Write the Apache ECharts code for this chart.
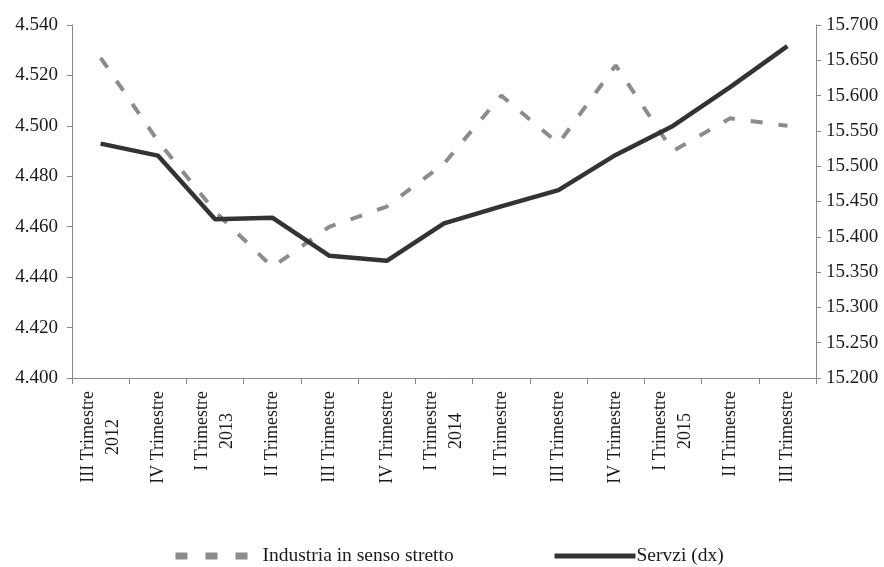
<!DOCTYPE html>
<html>
<head>
<meta charset="utf-8">
<script src="https://cdn.jsdelivr.net/npm/echarts@6/dist/echarts.min.js"></script>
<style>
html,body{margin:0;padding:0;background:#fff;}
#chart{width:884px;height:567px;}
</style>
</head>
<body>
<div id="chart"></div>
<script>
const categories = [
  'III Trimestre\n2012', 'IV Trimestre', 'I Trimestre\n2013', 'II Trimestre',
  'III Trimestre', 'IV Trimestre', 'I Trimestre\n2014', 'II Trimestre',
  'III Trimestre', 'IV Trimestre', 'I Trimestre\n2015', 'II Trimestre', 'III Trimestre'
];
const industria = [4527, 4494, 4466, 4444, 4460, 4468, 4485, 4512, 4493, 4524, 4490, 4503, 4500];
const servizi = [15532, 15515, 15425, 15427, 15373, 15366, 15419, 15443, 15466, 15516, 15557, 15612, 15670];
const seriesNames = ['Industria in senso stretto', 'Servzi (dx)'];

function fmt(v) {
  const s = String(Math.round(v));
  return s.replace(/\B(?=(\d{3})+(?!\d))/g, '.');
}

const FONT = '"Liberation Serif", "DejaVu Serif", serif';
const chart = echarts.init(document.getElementById('chart'));
chart.setOption({
  animation: false,
  backgroundColor: '#ffffff',
  grid: { left: 72, right: 68, top: 25, bottom: 189, containLabel: false },
  legend: [
    {
      data: [seriesNames[0]],
      left: 172, top: 546, padding: 0,
      itemWidth: 74, itemHeight: 14,
      itemStyle: { opacity: 0 },
      lineStyle: { width: 7, type: [12, 18], color: '#8c8c8c' },
      textStyle: { fontFamily: FONT, fontSize: 19.5, color: '#1a1a1a', padding: [0, 0, 0, 8] },
      selectedMode: false
    },
    {
      data: [seriesNames[1]],
      left: 552, top: 546, padding: 0,
      itemWidth: 81, itemHeight: 14,
      itemStyle: { opacity: 0 },
      lineStyle: { width: 5, color: '#333333' },
      textStyle: { fontFamily: FONT, fontSize: 19.5, color: '#1a1a1a', padding: [0, 0, 0, -4] },
      selectedMode: false
    }
  ],
  xAxis: {
    type: 'category',
    data: categories,
    boundaryGap: true,
    axisLine: { lineStyle: { color: '#888888', width: 1 } },
    axisTick: { show: true, length: 6, alignWithLabel: false, lineStyle: { color: '#888888' } },
    axisLabel: {
      interval: 0,
      rotate: 90,
      margin: 13,
      formatter: function (v) {
        return v.split('\n').map(function (p) { return '{a|' + p + '}'; }).join('\n');
      },
      rich: {
        a: { fontFamily: FONT, fontSize: 18, color: '#1a1a1a', align: 'center', lineHeight: 25 }
      }
    }
  },
  yAxis: [
    {
      type: 'value',
      min: 4400, max: 4540, interval: 20,
      position: 'left',
      splitLine: { show: false },
      axisLine: { show: true, lineStyle: { color: '#888888' } },
      axisTick: { show: true, length: 5, lineStyle: { color: '#888888' } },
      axisLabel: { fontFamily: FONT, fontSize: 19, color: '#1a1a1a', margin: 14, formatter: fmt }
    },
    {
      type: 'value',
      min: 15200, max: 15700, interval: 50,
      position: 'right',
      splitLine: { show: false },
      axisLine: { show: true, lineStyle: { color: '#888888' } },
      axisTick: { show: true, length: 5, lineStyle: { color: '#888888' } },
      axisLabel: { fontFamily: FONT, fontSize: 19, color: '#1a1a1a', margin: 10, formatter: fmt }
    }
  ],
  series: [
    {
      name: seriesNames[0],
      type: 'line',
      yAxisIndex: 0,
      data: industria,
      showSymbol: false,
      symbol: 'none',
      color: '#8c8c8c',
      lineStyle: { color: '#8c8c8c', width: 4, type: [12, 16] }
    },
    {
      name: seriesNames[1],
      type: 'line',
      yAxisIndex: 1,
      data: servizi,
      showSymbol: false,
      symbol: 'none',
      color: '#333333',
      lineStyle: { color: '#333333', width: 4.5, type: 'solid' }
    }
  ]
});
</script>
</body>
</html>
